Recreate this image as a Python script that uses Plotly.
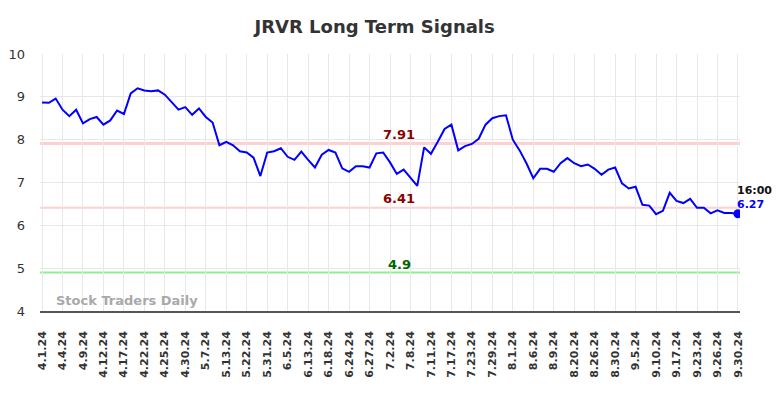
import plotly.graph_objects as go

tick_labels = ["4.1.24", "4.4.24", "4.9.24", "4.12.24", "4.17.24", "4.22.24", "4.25.24",
               "4.30.24", "5.7.24", "5.13.24", "5.22.24", "5.31.24", "6.5.24", "6.13.24",
               "6.18.24", "6.24.24", "6.27.24", "7.2.24", "7.8.24", "7.11.24", "7.17.24",
               "7.23.24", "7.29.24", "8.1.24", "8.6.24", "8.9.24", "8.20.24", "8.26.24",
               "8.30.24", "9.5.24", "9.10.24", "9.17.24", "9.23.24", "9.26.24", "9.30.24"]

values = [8.87, 8.86, 8.96, 8.70, 8.55, 8.70, 8.38, 8.48, 8.53, 8.35,
          8.45, 8.68, 8.60, 9.08, 9.20, 9.15, 9.13, 9.15, 9.05, 8.88,
          8.70, 8.76, 8.58, 8.73, 8.53, 8.40, 7.87, 7.95, 7.87, 7.73,
          7.70, 7.58, 7.15, 7.70, 7.73, 7.80, 7.60, 7.53, 7.72, 7.53,
          7.35, 7.65, 7.76, 7.70, 7.33, 7.25, 7.38, 7.38, 7.35, 7.68,
          7.70, 7.47, 7.20, 7.30, 7.10, 6.92, 7.82, 7.67, 7.95, 8.25,
          8.35, 7.75, 7.85, 7.90, 8.02, 8.35, 8.50, 8.55, 8.57, 8.00,
          7.75, 7.45, 7.10, 7.32, 7.32, 7.25, 7.45, 7.57, 7.45, 7.38,
          7.42, 7.32, 7.18, 7.30, 7.35, 6.98, 6.86, 6.90, 6.48, 6.46,
          6.26, 6.34, 6.76, 6.57, 6.52, 6.62, 6.41, 6.41, 6.28, 6.35,
          6.29, 6.29, 6.27]

upper_level = 7.91
lower_level = 6.41
support_level = 4.9
last_time = "16:00"
label_step = 3

x = list(range(len(values)))
tickvals = x[::label_step]
ticktext = [f"<b>{t}</b>" for t in tick_labels]

fig = go.Figure()
fig.add_trace(go.Scatter(x=x, y=values, mode="lines",
                         line=dict(color="#0000ff", width=2), hoverinfo="skip"))
fig.add_trace(go.Scatter(x=[x[-1]], y=[values[-1]], mode="markers",
                         marker=dict(color="#0000ff", size=9), hoverinfo="skip"))

fig.add_hline(y=upper_level, line=dict(color="rgba(255,150,150,0.45)", width=3), layer="below")
fig.add_hline(y=lower_level, line=dict(color="rgba(255,150,150,0.45)", width=2), layer="below")
fig.add_hline(y=support_level, line=dict(color="#90ee90", width=2), layer="below")

label_x = 0.513
fig.add_annotation(xref="paper", x=label_x, y=upper_level, text=f"<b>{upper_level}</b>",
                   showarrow=False, yshift=9,
                   font=dict(color="#8b0000", size=13, family="DejaVu Sans"))
fig.add_annotation(xref="paper", x=label_x, y=lower_level, text=f"<b>{lower_level}</b>",
                   showarrow=False, yshift=9,
                   font=dict(color="#8b0000", size=13, family="DejaVu Sans"))
fig.add_annotation(xref="paper", x=label_x, y=support_level, text=f"<b>{support_level}</b>",
                   showarrow=False, yshift=8,
                   font=dict(color="#006400", size=13, family="DejaVu Sans"))
fig.add_annotation(x=x[-1], y=values[-1], text=f"<b>{last_time}</b>", showarrow=False,
                   xanchor="left", xshift=-3, yshift=23,
                   font=dict(color="#111111", size=11, family="DejaVu Sans"))
fig.add_annotation(x=x[-1], y=values[-1], text=f"<b>{values[-1]}</b>", showarrow=False,
                   xanchor="left", xshift=-3, yshift=9,
                   font=dict(color="#0000ff", size=11, family="DejaVu Sans"))
fig.add_annotation(xref="paper", yref="paper", x=0.02, y=0.0, yanchor="bottom", yshift=1,
                   xanchor="left", text="<b>Stock Traders Daily</b>", showarrow=False,
                   font=dict(color="#a9a9a9", size=13, family="DejaVu Sans"))

fig.update_layout(
    width=784, height=398,
    margin=dict(l=40, r=44, t=54, b=87, autoexpand=False),
    paper_bgcolor="white", plot_bgcolor="white",
    showlegend=False,
    title=dict(text="<b>JRVR Long Term Signals</b>", x=0.478, xanchor="center",
               xref="paper", y=0.932, yanchor="middle", automargin=False,
               font=dict(size=18, color="#333333", family="DejaVu Sans")),
    font=dict(family="DejaVu Sans", color="#333333"),
)
fig.update_xaxes(range=[-0.3, len(values) - 0.7], tickvals=tickvals, ticktext=ticktext,
                 tickangle=-90, tickfont=dict(size=11, color="#333333", family="DejaVu Sans"),
                 showgrid=True, gridcolor="#e8e8e8", gridwidth=1, automargin=False,
                 showline=True, linecolor="#555555", linewidth=1.5, zeroline=False,
                 ticks="", ticklen=0, ticklabelstandoff=14)
fig.update_yaxes(range=[4, 10], dtick=1, tickfont=dict(size=13, color="#333333"),
                 showgrid=True, gridcolor="#e8e8e8", gridwidth=1, zeroline=False,
                 automargin=False, ticks="", ticklabelstandoff=14)

fig.write_html("out.html", config={"displayModeBar": False},
               post_script="document.body.style.margin='0';document.body.style.overflow='hidden';")
